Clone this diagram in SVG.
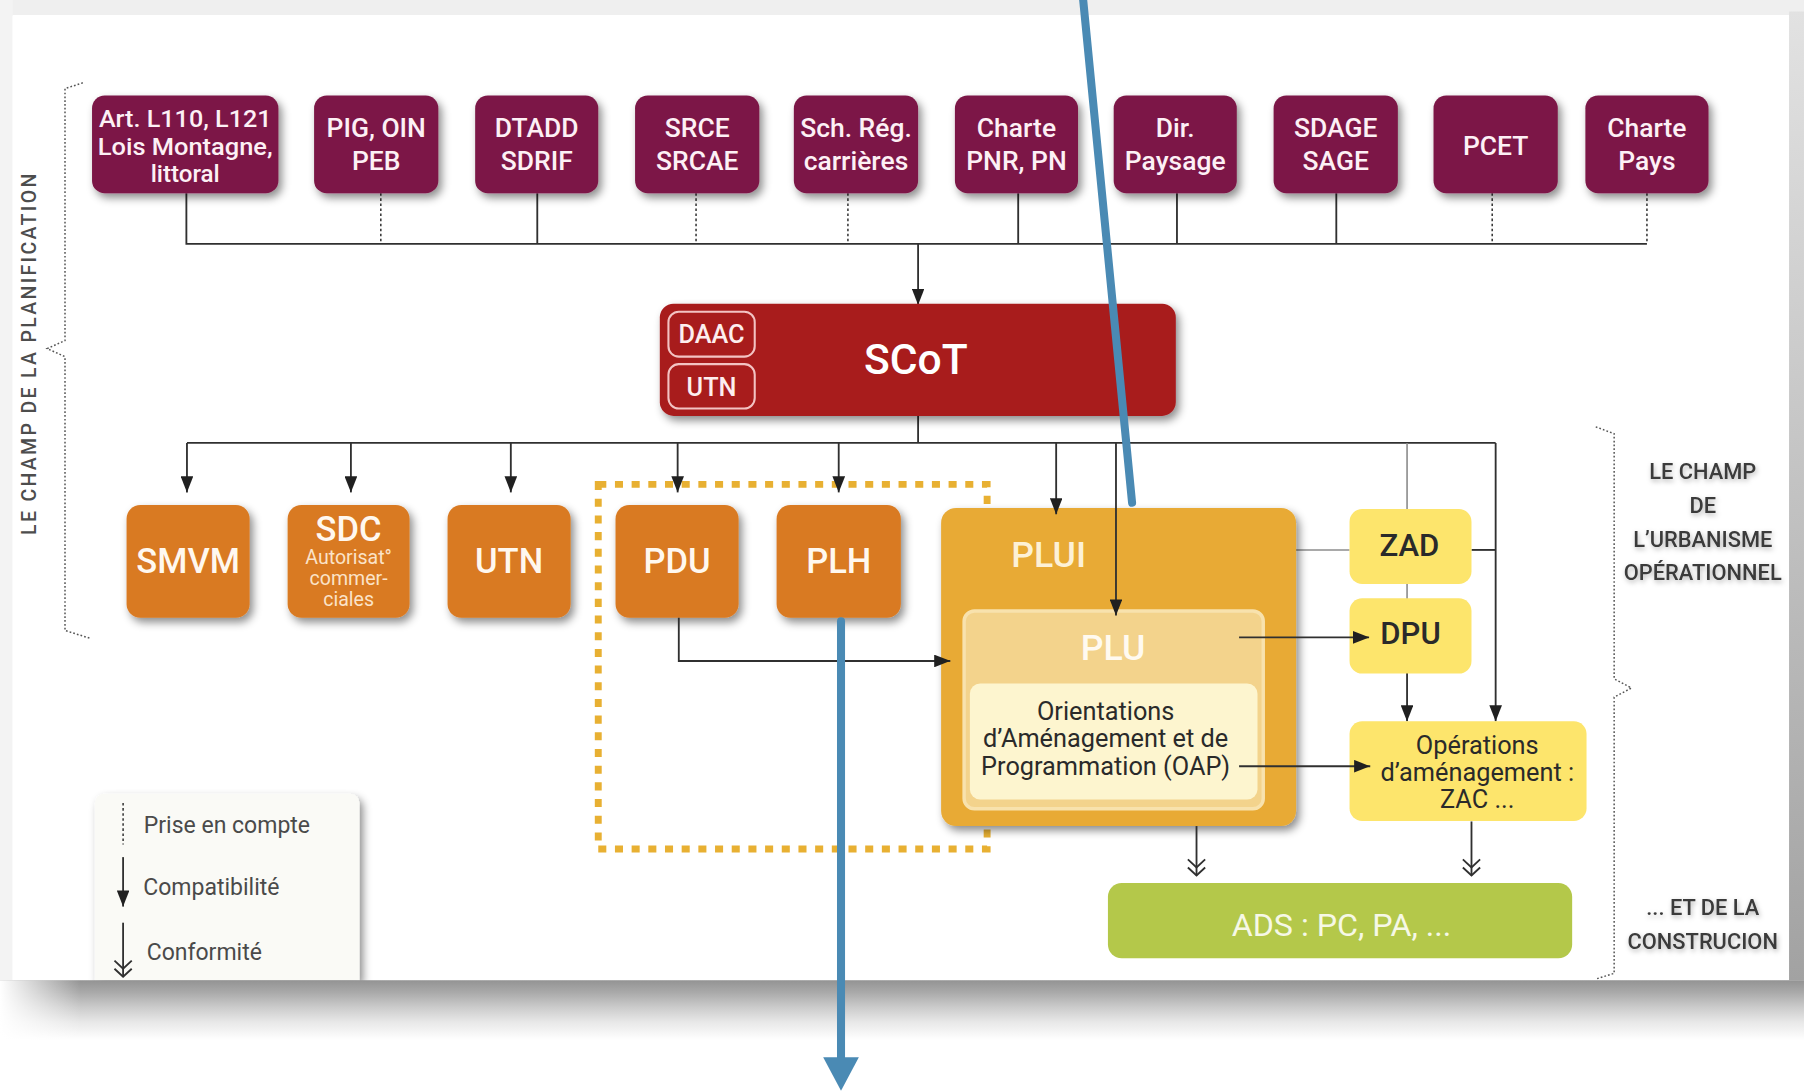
<svg xmlns="http://www.w3.org/2000/svg" width="1804" height="1091" viewBox="0 0 1804 1091">
<defs>
<style>
text{font-family:Roboto,"Liberation Sans","DejaVu Sans",sans-serif}
.tb{font-size:23px;font-weight:500;fill:#fdf0f5;text-anchor:middle}
.ta{font-size:21px;font-weight:500;fill:#fdf0f5;text-anchor:middle}
.ob{font-size:30px;font-weight:500;fill:#fff8ef;text-anchor:middle}
.os{font-size:17px;font-weight:400;fill:#fbe3c8;text-anchor:middle}
.yb{font-size:27px;font-weight:500;fill:#2a2a2a;text-anchor:middle}
.ys{font-size:22px;font-weight:400;fill:#2a2a2a;text-anchor:middle}
.side{font-size:19px;font-weight:500;fill:#3b3b3b;text-anchor:middle}
.leg{font-size:20px;font-weight:400;fill:#4a4a4a}
.maroon{fill:#7b1746}
.orange{fill:#d97a22}
.yel{fill:#fde56c}
.c{stroke:#303030;stroke-width:1.6;fill:none}
.cd{stroke:#303030;stroke-width:1.3;fill:none;stroke-dasharray:2.2 2.2}
.cg{stroke:#8c8c8c;stroke-width:1.4;fill:none}
.br{stroke:#555;stroke-width:1.3;fill:none;stroke-dasharray:1.5 1.8}
.blue{stroke:#4a8ab4;stroke-width:7;fill:none;stroke-linecap:round}
</style>
<filter id="sh" x="-15%" y="-15%" width="140%" height="150%">
<feDropShadow dx="3" dy="4" stdDeviation="3.5" flood-color="#000" flood-opacity="0.45"/>
</filter>
<filter id="ts" x="-20%" y="-40%" width="140%" height="200%">
<feDropShadow dx="1" dy="2" stdDeviation="2.5" flood-color="#000" flood-opacity="0.3"/>
</filter>
<marker id="ah" viewBox="0 0 14 11" refX="14" refY="5.5" markerWidth="14" markerHeight="11" markerUnits="userSpaceOnUse" orient="auto"><path d="M0,0 L14,5.5 L0,11 z" fill="#202020"/></marker>
<marker id="dbl" viewBox="0 0 18 18" refX="17" refY="9" markerWidth="18" markerHeight="18" markerUnits="userSpaceOnUse" orient="auto"><path d="M3,1.5 L10,9 L3,16.5 M10,1.5 L17,9 L10,16.5" fill="none" stroke="#303030" stroke-width="1.6"/></marker>
<linearGradient id="bsh" x1="0" y1="0" x2="0" y2="1">
<stop offset="0" stop-color="#939393"/><stop offset="0.2" stop-color="#a9a9a9"/><stop offset="0.45" stop-color="#cbcbcb"/><stop offset="0.7" stop-color="#e8e8e8"/><stop offset="1" stop-color="#ffffff"/>
</linearGradient>
<linearGradient id="lfade" x1="0" y1="0" x2="1" y2="0">
<stop offset="0" stop-color="#ffffff" stop-opacity="1"/><stop offset="1" stop-color="#ffffff" stop-opacity="0"/>
</linearGradient>
<linearGradient id="rsh" x1="0" y1="0" x2="0" y2="1">
<stop offset="0" stop-color="#e2e2e2"/><stop offset="1" stop-color="#a2a2a2"/>
</linearGradient>
</defs>
<g transform="scale(1.1505)">
<g id="frame">
<rect x="0" y="0" width="1568" height="948" fill="#ffffff"/>
<rect x="0" y="0" width="1568" height="14" fill="#efefef"/>
<rect x="0" y="0" width="11" height="852" fill="#f3f3f3"/>
<rect x="1555" y="10" width="13" height="842" fill="url(#rsh)"/>
<rect x="11" y="13" width="1544" height="839" fill="#ffffff"/>
</g>
<g id="braces">
<path class="br" d="M72,72 L56.5,77 V296 L41,303 L56.5,310 V548 L79,555"/>
<path class="br" d="M1387,371 L1403,377 V590 L1418,598 L1403,606 V846 L1387,851"/>
<text x="0" y="0" transform="translate(31,308) rotate(-90)" text-anchor="middle" font-size="17" font-weight="500" fill="#4d4d4d" textLength="314" lengthAdjust="spacing">LE CHAMP DE LA PLANIFICATION</text>
</g>
<g id="dotted-frame">
<rect x="520" y="421" width="338" height="317" fill="none" stroke="#e8b032" stroke-width="6" stroke-dasharray="7 7.5"/>
</g>
<g id="connectors">
<path class="c" d="M162,168 V212 H1431.5"/>
<path class="cd" d="M331,168 V212"/>
<path class="c" d="M467,168 V212"/>
<path class="cd" d="M605,168 V212"/>
<path class="cd" d="M737,168 V212"/>
<path class="c" d="M885,168 V212"/>
<path class="c" d="M1023,168 V212"/>
<path class="c" d="M1161.5,168 V212"/>
<path class="cd" d="M1297,168 V212"/>
<path class="cd" d="M1431.5,168 V212"/>
<path class="c" d="M798,212 V265" marker-end="url(#ah)"/>
<path class="c" d="M798,361 V385"/>
<path class="c" d="M162.5,385 H1300"/>
<path class="c" d="M162.5,385 V428" marker-end="url(#ah)"/>
<path class="c" d="M305,385 V428" marker-end="url(#ah)"/>
<path class="c" d="M444,385 V428" marker-end="url(#ah)"/>
<path class="c" d="M589,385 V428" marker-end="url(#ah)"/>
<path class="c" d="M729,385 V428" marker-end="url(#ah)"/>
<path class="c" d="M1300,385 V627" marker-end="url(#ah)"/>
<path class="cg" d="M1223,385 V443"/>
<path class="cg" d="M1223,507 V521"/>
<path class="cg" d="M1126,478 H1173"/>
<path class="c" d="M1279,478 H1300"/>
<path class="c" d="M1223,585 V627" marker-end="url(#ah)"/>
</g>
<g id="n-top">
<g filter="url(#sh)" class="maroon">
<rect x="80" y="83" width="162" height="85" rx="11"/>
<rect x="273" y="83" width="108" height="85" rx="11"/>
<rect x="413" y="83" width="107" height="85" rx="11"/>
<rect x="552" y="83" width="108" height="85" rx="11"/>
<rect x="690" y="83" width="108" height="85" rx="11"/>
<rect x="830" y="83" width="107" height="85" rx="11"/>
<rect x="968" y="83" width="107" height="85" rx="11"/>
<rect x="1107" y="83" width="108" height="85" rx="11"/>
<rect x="1246" y="83" width="108" height="85" rx="11"/>
<rect x="1378" y="83" width="107" height="85" rx="11"/>
</g>
</g>
<g id="n-art"><text class="ta" x="161" y="110" textLength="150" lengthAdjust="spacingAndGlyphs">Art. L110, L121</text><text class="ta" x="161" y="134.5" textLength="152" lengthAdjust="spacingAndGlyphs">Lois Montagne,</text><text class="ta" x="161" y="158.5">littoral</text></g>
<g id="n-pig"><text class="tb" x="327" y="119.5">PIG, OIN</text><text class="tb" x="327" y="148">PEB</text></g>
<g id="n-dtadd"><text class="tb" x="466.5" y="119.5">DTADD</text><text class="tb" x="466.5" y="148">SDRIF</text></g>
<g id="n-srce"><text class="tb" x="606" y="119.5">SRCE</text><text class="tb" x="606" y="148">SRCAE</text></g>
<g id="n-sch"><text class="tb" x="744" y="119.5">Sch. Rég.</text><text class="tb" x="744" y="148">carrières</text></g>
<g id="n-charte"><text class="tb" x="883.5" y="119.5">Charte</text><text class="tb" x="883.5" y="148">PNR, PN</text></g>
<g id="n-dir"><text class="tb" x="1021.5" y="119.5">Dir.</text><text class="tb" x="1021.5" y="148">Paysage</text></g>
<g id="n-sdage"><text class="tb" x="1161" y="119.5">SDAGE</text><text class="tb" x="1161" y="148">SAGE</text></g>
<g id="n-pcet"><text class="tb" x="1300" y="134.5">PCET</text></g>
<g id="n-pays"><text class="tb" x="1431.5" y="119.5">Charte</text><text class="tb" x="1431.5" y="148">Pays</text></g>
<g id="n-scot">
<rect x="573.5" y="264" width="448.5" height="97.5" rx="12" fill="#a81b1e" filter="url(#sh)"/>
<rect x="581" y="271" width="75" height="39" rx="9" fill="none" stroke="#f3c3c3" stroke-width="1.8"/>
<rect x="581" y="316.5" width="75" height="38.5" rx="9" fill="none" stroke="#f3c3c3" stroke-width="1.8"/>
<text x="618.5" y="298" text-anchor="middle" font-size="22" font-weight="500" fill="#fdeeee">DAAC</text>
<text x="618.5" y="344" text-anchor="middle" font-size="22" font-weight="500" fill="#fdeeee">UTN</text>
<text x="796" y="325" text-anchor="middle" font-size="37" font-weight="500" fill="#ffffff">SCoT</text>
</g>
<g id="n-orange">
<g filter="url(#sh)" class="orange">
<rect x="110" y="439" width="107" height="98" rx="12"/>
<rect x="250" y="439" width="106" height="98" rx="12"/>
<rect x="389" y="439" width="107" height="98" rx="12"/>
<rect x="535" y="439" width="107" height="98" rx="12"/>
<rect x="675" y="439" width="108" height="98" rx="12"/>
</g>
</g>
<g id="n-smvm"><text class="ob" x="163.5" y="498">SMVM</text></g>
<g id="n-sdc"><text class="ob" x="303" y="470">SDC</text><text class="os" x="303" y="490">Autorisat°</text><text class="os" x="303" y="508.5">commer-</text><text class="os" x="303" y="527">ciales</text></g>
<g id="n-utn"><text class="ob" x="442.5" y="498">UTN</text></g>
<g id="n-pdu"><text class="ob" x="588.5" y="498">PDU</text></g>
<g id="n-plh"><text class="ob" x="729" y="498">PLH</text></g>
<g id="n-plui">
<rect x="818" y="441.5" width="308.5" height="276.5" rx="13" fill="#e8aa36" filter="url(#sh)"/>
<text x="911.5" y="493" text-anchor="middle" font-size="31" font-weight="500" fill="#fdf1d6">PLUI</text>
</g>
<g id="n-plu">
<rect x="838" y="531" width="260" height="172" rx="9" fill="#f3d38c" stroke="#f8e2ad" stroke-width="3"/>
<text x="967.5" y="574" text-anchor="middle" font-size="31" font-weight="500" fill="#fffaf0">PLU</text>
</g>
<g id="n-oap">
<rect x="843" y="594" width="250" height="101" rx="9" fill="#fdf5cf"/>
<text class="ys" x="961" y="626">Orientations</text>
<text class="ys" x="961" y="649.5">d’Aménagement et de</text>
<text class="ys" x="961" y="673.5">Programmation (OAP)</text>
</g>
<g id="n-zad"><rect class="yel" x="1173" y="442.5" width="106" height="65" rx="11"/><text class="yb" x="1225" y="483">ZAD</text></g>
<g id="n-dpu"><rect class="yel" x="1173" y="520" width="106" height="65.5" rx="11"/><text class="yb" x="1226" y="560">DPU</text></g>
<g id="n-ops"><rect class="yel" x="1173" y="627" width="206" height="86.5" rx="11"/><text class="ys" x="1284" y="655">Opérations</text><text class="ys" x="1284" y="679">d’aménagement :</text><text class="ys" x="1284" y="702">ZAC ...</text></g>
<g id="n-ads"><rect x="963" y="767.5" width="403.5" height="65.5" rx="12" fill="#b4c84a"/><text x="1166" y="814" text-anchor="middle" font-size="28" font-weight="400" fill="#f6f8e6">ADS : PC, PA, ...</text></g>
<g id="connectors-2">
<path class="c" d="M918,385 V447" marker-end="url(#ah)"/>
<path class="c" d="M590,537 V574.5 H826" marker-end="url(#ah)"/>
<path class="c" d="M1077,554 H1190" marker-end="url(#ah)"/>
<path class="c" d="M1077,666 H1191" marker-end="url(#ah)"/>
<path class="c" d="M970,385 V535" marker-end="url(#ah)"/>
<path class="c" d="M1040,718 V761" marker-end="url(#dbl)"/>
<path class="c" d="M1279,714 V761" marker-end="url(#dbl)"/>
</g>
<g id="side-labels" filter="url(#ts)">
<text class="side" x="1480" y="416.5">LE CHAMP</text>
<text class="side" x="1480" y="446">DE</text>
<text class="side" x="1480" y="475.5">L’URBANISME</text>
<text class="side" x="1480" y="504">OPÉRATIONNEL</text>
<text class="side" x="1480" y="795.5">... ET DE LA</text>
<text class="side" x="1480" y="825">CONSTRUCION</text>
</g>
<g id="legend">
<path d="M82.5,698 a8,8 0 0 1 8,-8 H304.5 a8,8 0 0 1 8,8 V852 H82.5 z" fill="#fafaf6" filter="url(#sh)"/>
<path class="cd" d="M107,698 V734"/>
<text class="leg" x="125" y="724">Prise en compte</text>
<path class="c" d="M107,745 V788" marker-end="url(#ah)"/>
<text class="leg" x="124.5" y="778">Compatibilité</text>
<path class="c" d="M107,802 V849" marker-end="url(#dbl)"/>
<text class="leg" x="127.5" y="834.5">Conformité</text>
</g>
<g id="bottom-shadow">
<rect x="0" y="852" width="1568" height="52" fill="url(#bsh)"/>
<rect x="0" y="852" width="70" height="52" fill="url(#lfade)"/>
</g>
<g id="annotations">
<path class="blue" d="M941,-5 L984,437"/>
<path class="blue" d="M731,540 V922"/>
<polygon points="715.5,919 746.5,919 731,948" fill="#4a8ab4"/>
</g>
</g>
</svg>
